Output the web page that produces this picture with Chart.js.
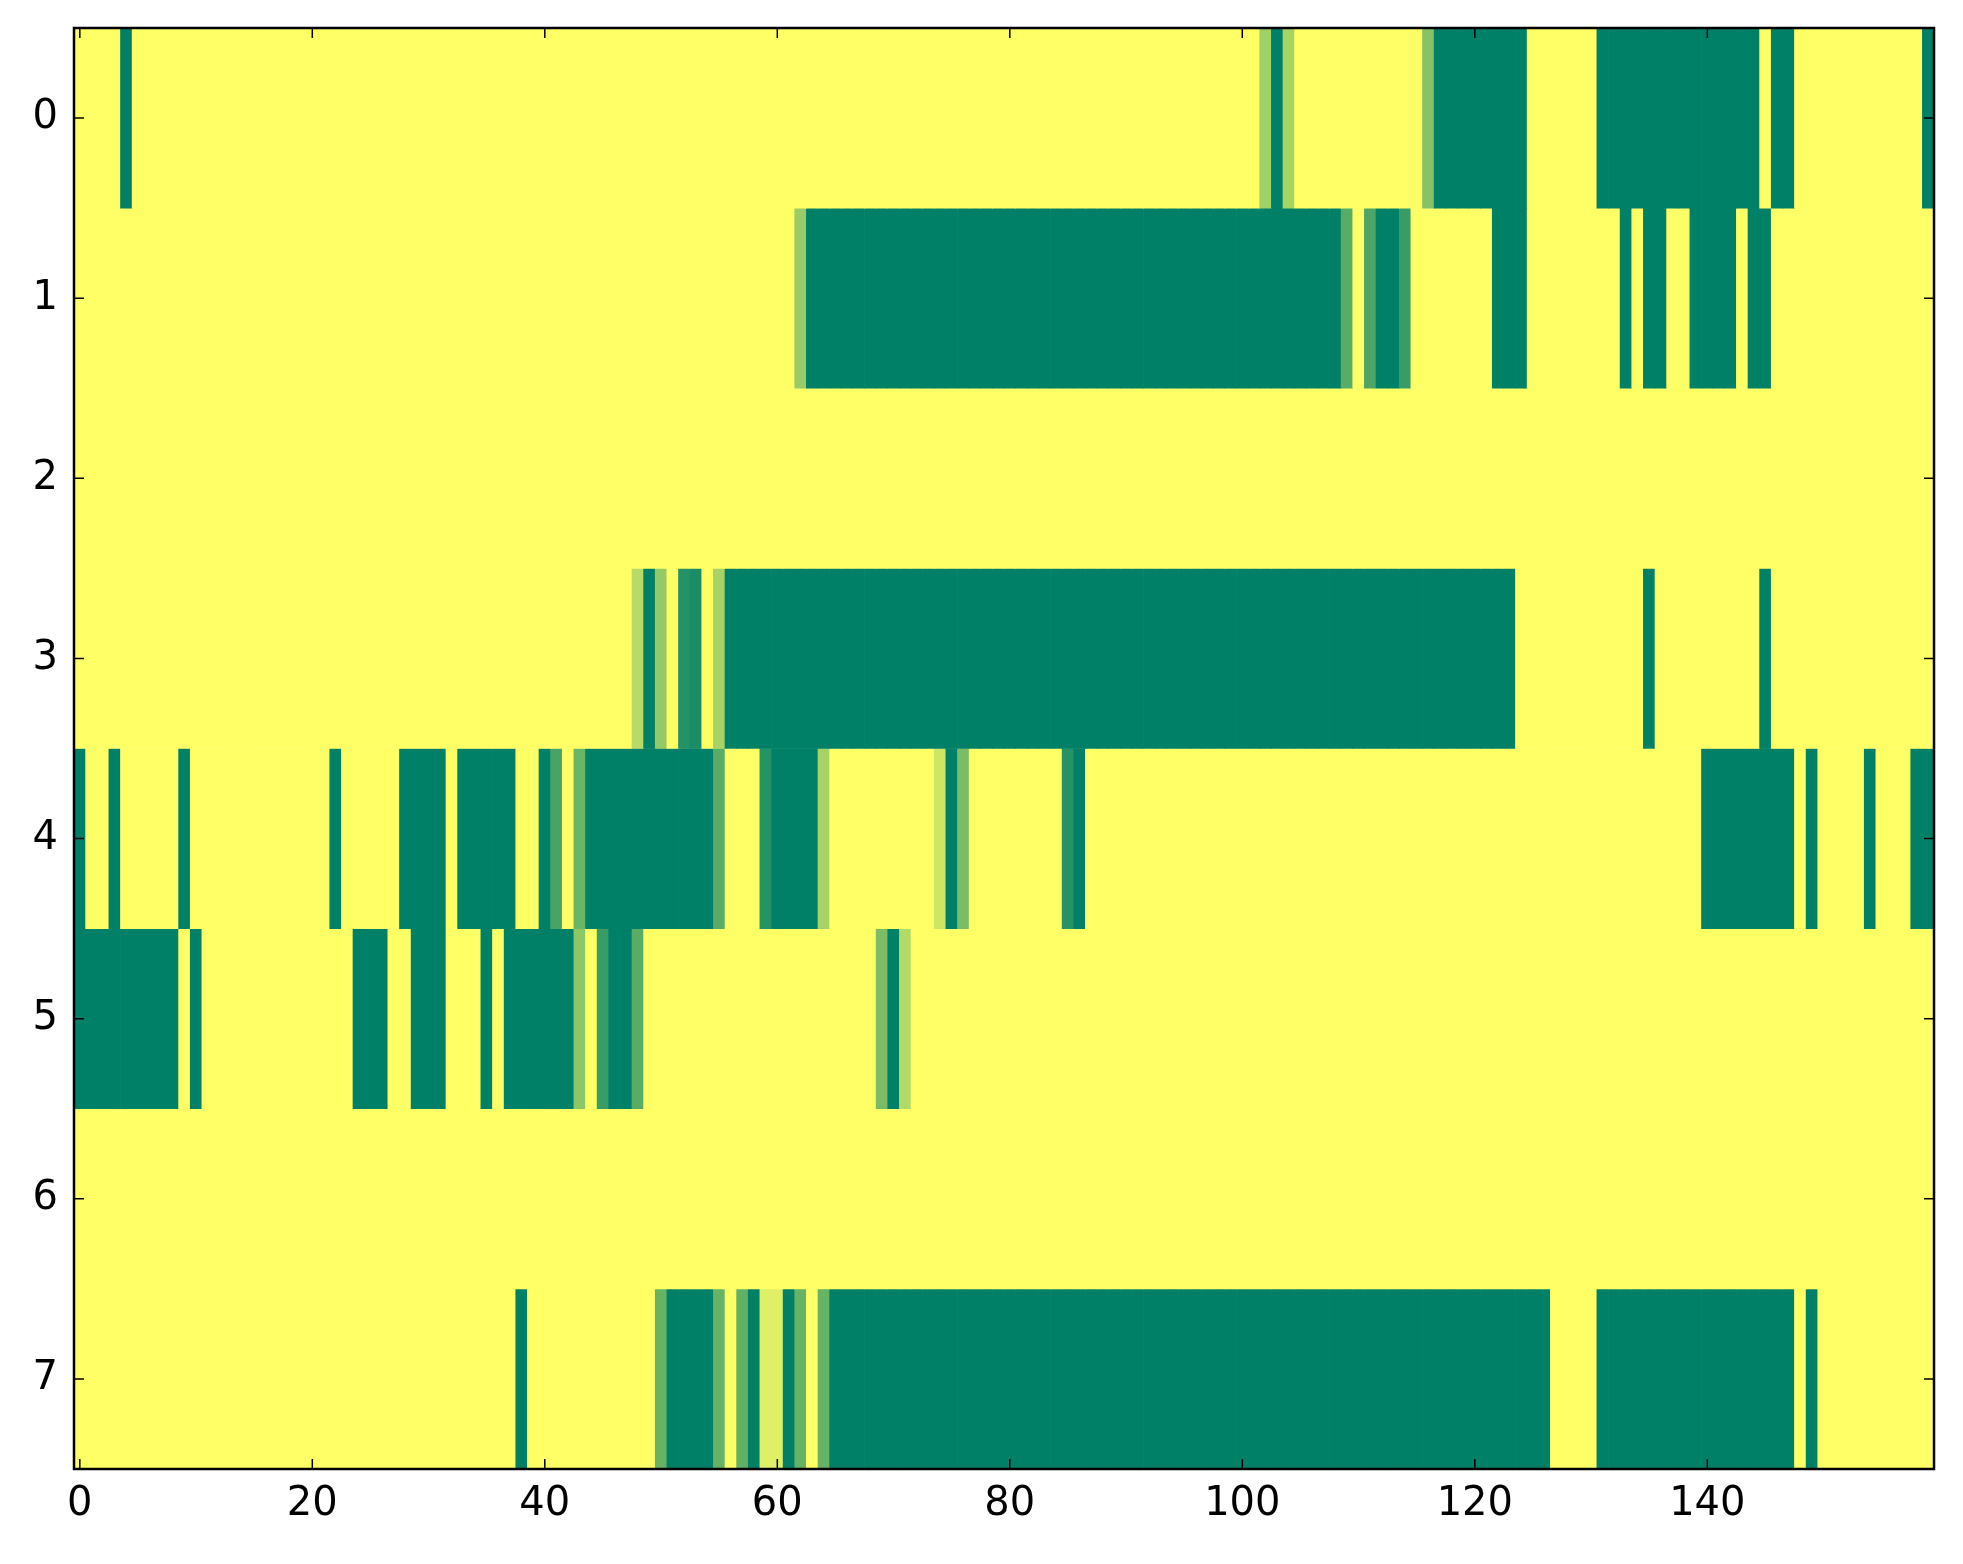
<!DOCTYPE html>
<html>
<head>
<meta charset="utf-8">
<script src="https://cdn.jsdelivr.net/npm/chart.js@4/dist/chart.umd.min.js"></script>
<style>
  html, body { margin: 0; padding: 0; background: #ffffff; }
  canvas { display: block; }
</style>
</head>
<body>
<canvas id="heat" width="1963" height="1564"></canvas>
<script>
// Une valeur par colonne (0 = vert foncé, 1 = jaune), 160 colonnes par ligne
const row0 = [
  1,1,1,1,0,1,1,1,1,1, 1,1,1,1,1,1,1,1,1,1,
  1,1,1,1,1,1,1,1,1,1, 1,1,1,1,1,1,1,1,1,1,
  1,1,1,1,1,1,1,1,1,1, 1,1,1,1,1,1,1,1,1,1,
  1,1,1,1,1,1,1,1,1,1, 1,1,1,1,1,1,1,1,1,1,
  1,1,1,1,1,1,1,1,1,1, 1,1,1,1,1,1,1,1,1,1,
  1,1,0.63,0,0.66,1,1,1,1,1, 1,1,1,1,1,1,0.53,0,0,0,
  0,0,0,0,0,1,1,1,1,1, 1,0,0,0,0,0,0,0,0,0,
  0,0,0,0,0,1,0,0,1,1, 1,1,1,1,1,1,1,1,1,0
];
const row1 = [
  1,1,1,1,1,1,1,1,1,1, 1,1,1,1,1,1,1,1,1,1,
  1,1,1,1,1,1,1,1,1,1, 1,1,1,1,1,1,1,1,1,1,
  1,1,1,1,1,1,1,1,1,1, 1,1,1,1,1,1,1,1,1,1,
  1,1,0.6,0,0,0,0,0,0,0, 0,0,0,0,0,0,0,0,0,0,
  0,0,0,0,0,0,0,0,0,0, 0,0,0,0,0,0,0,0,0,0,
  0,0,0,0,0,0,0,0,0,0.35, 1,0.3,0,0,0.22,1,1,1,1,1,
  1,1,0,0,0,1,1,1,1,1, 1,1,1,0,1,0,0,1,1,0,
  0,0,0,1,0,0,1,1,1,1, 1,1,1,1,1,1,1,1,1,1
];
const row2 = [
  1,1,1,1,1,1,1,1,1,1, 1,1,1,1,1,1,1,1,1,1,
  1,1,1,1,1,1,1,1,1,1, 1,1,1,1,1,1,1,1,1,1,
  1,1,1,1,1,1,1,1,1,1, 1,1,1,1,1,1,1,1,1,1,
  1,1,1,1,1,1,1,1,1,1, 1,1,1,1,1,1,1,1,1,1,
  1,1,1,1,1,1,1,1,1,1, 1,1,1,1,1,1,1,1,1,1,
  1,1,1,1,1,1,1,1,1,1, 1,1,1,1,1,1,1,1,1,1,
  1,1,1,1,1,1,1,1,1,1, 1,1,1,1,1,1,1,1,1,1,
  1,1,1,1,1,1,1,1,1,1, 1,1,1,1,1,1,1,1,1,1
];
const row3 = [
  1,1,1,1,1,1,1,1,1,1, 1,1,1,1,1,1,1,1,1,1,
  1,1,1,1,1,1,1,1,1,1, 1,1,1,1,1,1,1,1,1,1,
  1,1,1,1,1,1,1,1,0.72,0, 0.58,1,0.14,0.1,1,0.65,0,0,0,0,
  0,0,0,0,0,0,0,0,0,0, 0,0,0,0,0,0,0,0,0,0,
  0,0,0,0,0,0,0,0,0,0, 0,0,0,0,0,0,0,0,0,0,
  0,0,0,0,0,0,0,0,0,0, 0,0,0,0,0,0,0,0,0,0,
  0,0,0,0,1,1,1,1,1,1, 1,1,1,1,1,0,1,1,1,1,
  1,1,1,1,1,0,1,1,1,1, 1,1,1,1,1,1,1,1,1,1
];
const row4 = [
  0,1,1,0,1,1,1,1,1,0, 1,1,1,1,1,1,1,1,1,1,
  1,1,0,1,1,1,1,1,0,0, 0,0,1,0,0,0,0,0,1,1,
  0,0.28,1,0.42,0,0,0,0,0,0, 0,0,0,0,0,0.35,1,1,1,0.15,
  0,0,0,0,0.65,1,1,1,1,1, 1,1,1,1,0.8,0,0.48,1,1,1,
  1,1,1,1,1,0.15,0,1,1,1, 1,1,1,1,1,1,1,1,1,1,
  1,1,1,1,1,1,1,1,1,1, 1,1,1,1,1,1,1,1,1,1,
  1,1,1,1,1,1,1,1,1,1, 1,1,1,1,1,1,1,1,1,1,
  0,0,0,0,0,0,0,0,1,0, 1,1,1,1,0,1,1,1,0,0
];
const row5 = [
  0,0,0,0,0,0,0,0,0,1, 0,1,1,1,1,1,1,1,1,1,
  1,1,1,1,0,0,0,1,1,0, 0,0,1,1,1,0,1,0,0,0,
  0,0,0,0.55,1,0.22,0,0,0.35,1, 1,1,1,1,1,1,1,1,1,1,
  1,1,1,1,1,1,1,1,1,0.48, 0,0.7,1,1,1,1,1,1,1,1,
  1,1,1,1,1,1,1,1,1,1, 1,1,1,1,1,1,1,1,1,1,
  1,1,1,1,1,1,1,1,1,1, 1,1,1,1,1,1,1,1,1,1,
  1,1,1,1,1,1,1,1,1,1, 1,1,1,1,1,1,1,1,1,1,
  1,1,1,1,1,1,1,1,1,1, 1,1,1,1,1,1,1,1,1,1
];
const row6 = [
  1,1,1,1,1,1,1,1,1,1, 1,1,1,1,1,1,1,1,1,1,
  1,1,1,1,1,1,1,1,1,1, 1,1,1,1,1,1,1,1,1,1,
  1,1,1,1,1,1,1,1,1,1, 1,1,1,1,1,1,1,1,1,1,
  1,1,1,1,1,1,1,1,1,1, 1,1,1,1,1,1,1,1,1,1,
  1,1,1,1,1,1,1,1,1,1, 1,1,1,1,1,1,1,1,1,1,
  1,1,1,1,1,1,1,1,1,1, 1,1,1,1,1,1,1,1,1,1,
  1,1,1,1,1,1,1,1,1,1, 1,1,1,1,1,1,1,1,1,1,
  1,1,1,1,1,1,1,1,1,1, 1,1,1,1,1,1,1,1,1,1
];
const row7 = [
  1,1,1,1,1,1,1,1,1,1, 1,1,1,1,1,1,1,1,1,1,
  1,1,1,1,1,1,1,1,1,1, 1,1,1,1,1,1,1,1,0,1,
  1,1,1,1,1,1,1,1,1,1, 0.4,0,0,0,0,0.4,1,0.38,0,0.88,
  0.88,0,0.4,1,0.4,0,0,0,0,0, 0,0,0,0,0,0,0,0,0,0,
  0,0,0,0,0,0,0,0,0,0, 0,0,0,0,0,0,0,0,0,0,
  0,0,0,0,0,0,0,0,0,0, 0,0,0,0,0,0,0,0,0,0,
  0,0,0,0,0,0,0,1,1,1, 1,0,0,0,0,0,0,0,0,0,
  0,0,0,0,0,0,0,0,1,0, 1,1,1,1,1,1,1,1,1,1
];

const rows = [row0, row1, row2, row3, row4, row5, row6, row7];
const xTickLabels = [0, 20, 40, 60, 80, 100, 120, 140];
const yTickLabels = [0, 1, 2, 3, 4, 5, 6, 7];

// Palette "summer" de matplotlib : (v, 0.5 + 0.5v, 0.4)
function summer(v) {
    const r = Math.round(255 * v);
    const g = Math.round(255 * (0.5 + 0.5 * v));
    return 'rgb(' + r + ',' + g + ',102)';
}

// Cadre noir + petites graduations vers l'intérieur sur les 4 côtés
const frameTicks = {
    id: 'frameTicks',
    afterDraw(chart) {
        const ctx = chart.ctx;
        const a = chart.chartArea;
        const sx = chart.scales.x, sy = chart.scales.y;
        ctx.save();
        ctx.strokeStyle = '#000000';
        ctx.lineWidth = 1.5;
        ctx.beginPath();
        xTickLabels.forEach(v => {
            const px = sx.getPixelForValue(v);
            ctx.moveTo(px, a.bottom); ctx.lineTo(px, a.bottom - 10);
            ctx.moveTo(px, a.top); ctx.lineTo(px, a.top + 10);
        });
        yTickLabels.forEach(v => {
            const py = sy.getPixelForValue(v);
            ctx.moveTo(a.left, py); ctx.lineTo(a.left + 10, py);
            ctx.moveTo(a.right, py); ctx.lineTo(a.right - 10, py);
        });
        ctx.stroke();
        ctx.lineWidth = 2.5;
        ctx.strokeRect(a.left, a.top, a.right - a.left, a.bottom - a.top);
        ctx.restore();
    }
};

document.addEventListener('DOMContentLoaded', function() {
    const datasets = rows.map((vals, r) => ({
        label: 'row ' + r,
        data: vals.map((v, i) => ({ x: i, y: [r - 0.5, r + 0.5] })),
        backgroundColor: vals.map(summer),
        borderWidth: 0,
        barPercentage: 1,
        categoryPercentage: 1,
        grouped: false
    }));

    const tickFont = { family: "'DejaVu Sans', sans-serif", size: 40 };

    new Chart(document.getElementById('heat'), {
        type: 'bar',
        data: { datasets: datasets },
        plugins: [frameTicks],
        options: {
            responsive: false,
            animation: false,
            devicePixelRatio: 1,
            layout: { padding: { top: 28, right: 29, bottom: 0, left: 0 } },
            plugins: { legend: { display: false }, tooltip: { enabled: false } },
            scales: {
                x: {
                    type: 'linear',
                    min: -0.5,
                    max: 159.5,
                    offset: false,
                    grid: { display: false, drawTicks: false },
                    border: { display: false },
                    afterBuildTicks: s => { s.ticks = xTickLabels.map(v => ({ value: v })); },
                    afterFit: s => { s.height = 95; s.paddingLeft = 0; s.paddingRight = 0; },
                    ticks: { color: '#000000', font: tickFont, padding: 12, maxRotation: 0, autoSkip: false }
                },
                y: {
                    type: 'linear',
                    reverse: true,
                    min: -0.5,
                    max: 7.5,
                    grid: { display: false, drawTicks: false },
                    border: { display: false },
                    afterBuildTicks: s => { s.ticks = yTickLabels.map(v => ({ value: v })); },
                    afterFit: s => { s.width = 74; s.paddingTop = 0; s.paddingBottom = 0; },
                    ticks: { color: '#000000', font: tickFont, padding: 16 }
                }
            }
        }
    });
});
</script>
</body>
</html>
